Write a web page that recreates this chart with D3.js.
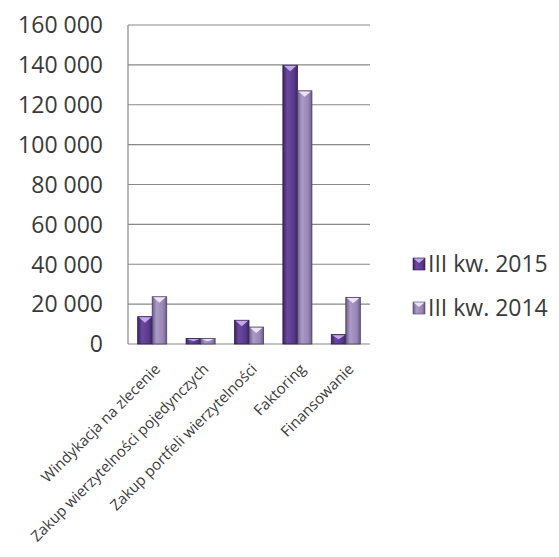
<!DOCTYPE html>
<html lang="pl">
<head>
  <meta charset="UTF-8">
  <title>Wierzytelności</title>
  <style>
    body, html {
      margin: 0;
      padding: 0;
      background: #fff;
    }
    #svg text {
      font-family: "Open Sans", sans-serif;
      fill: #3a3a3a;
    }
  </style>
</head>
<body>
  <svg id="svg" width="559" height="557"></svg>
  <script src="https://d3js.org/d3.v7.min.js"></script>
  <script>
    const categories = [
      "Windykacja na zlecenie",
      "Zakup wierzytelności pojedynczych",
      "Zakup portfeli wierzytelności",
      "Faktoring",
      "Finansowanie"
    ]
    const seriesNames = ["III kw. 2015", "III kw. 2014"]
    const values2015 = [13700, 2800, 11900, 139800, 4700]
    const values2014 = [23700, 2800, 8500, 127000, 23400]
    const yTicks = [0, 20000, 40000, 60000, 80000, 100000, 120000, 140000, 160000]

    const svg = d3.select("#svg")

    const plotLeft = 128, plotRight = 370, plotTop = 25, plotBottom = 344

    const x = d3.scaleBand()
      .domain(categories)
      .range([plotLeft, plotRight])
      .paddingInner(0.4)
      .paddingOuter(0.2)

    const xSeries = d3.scaleBand()
      .domain(seriesNames)
      .range([0, x.bandwidth()])

    const y = d3.scaleLinear()
      .domain([0, 160000])
      .range([plotBottom, plotTop])

    // gradients for the bevelled bars
    const colors = {
      "III kw. 2015": { edge: "#3e2566", mid: "#6a48a0", base: "#5a3a8c", cap: "#c4a8ee", stroke: "#2c1b48" },
      "III kw. 2014": { edge: "#6b5c88", mid: "#ab9bc8", base: "#9786b6", cap: "#ece2fa", stroke: "#4a3d62" }
    }
    const defs = svg.append("defs")
    seriesNames.forEach((s, i) => {
      const g = defs.append("linearGradient")
        .attr("id", "grad" + i)
        .attr("x1", "0").attr("x2", "1").attr("y1", "0").attr("y2", "0")
      g.append("stop").attr("offset", "0").attr("stop-color", colors[s].edge)
      g.append("stop").attr("offset", "0.3").attr("stop-color", colors[s].mid)
      g.append("stop").attr("offset", "0.75").attr("stop-color", colors[s].base)
      g.append("stop").attr("offset", "1").attr("stop-color", colors[s].edge)
    })

    // gridlines
    svg.append("g")
      .selectAll("line")
      .data(yTicks)
      .join("line")
      .attr("x1", plotLeft)
      .attr("x2", plotRight)
      .attr("y1", d => y(d))
      .attr("y2", d => y(d))
      .attr("stroke", "#888")
      .attr("stroke-width", 1.2)

    // y axis line
    svg.append("line")
      .attr("x1", plotLeft).attr("x2", plotLeft)
      .attr("y1", y(160000)).attr("y2", y(0))
      .attr("stroke", "#888")
      .attr("stroke-width", 1.2)

    // y tick labels
    const fmt = d => d3.format(",")(d).replace(/,/g, " ")
    svg.append("g")
      .selectAll("text")
      .data(yTicks)
      .join("text")
      .attr("x", 103)
      .attr("y", d => y(d))
      .attr("dy", "0.36em")
      .attr("text-anchor", "end")
      .style("font-size", "23px")
      .text(fmt)

    // bars
    const rows = []
    categories.forEach((c, i) => {
      rows.push({ cat: c, series: seriesNames[0], idx: 0, value: values2015[i] })
      rows.push({ cat: c, series: seriesNames[1], idx: 1, value: values2014[i] })
    })

    const bars = svg.append("g")
      .selectAll("g")
      .data(rows)
      .join("g")
      .attr("transform", d => `translate(${x(d.cat) + xSeries(d.series)},0)`)

    const bw = xSeries.bandwidth()

    bars.append("rect")
      .attr("x", 0)
      .attr("y", d => y(d.value))
      .attr("width", bw)
      .attr("height", d => y(0) - y(d.value))
      .attr("fill", d => `url(#grad${d.idx})`)
      .attr("stroke", d => colors[d.series].stroke)
      .attr("stroke-width", 0.8)

    // light top bevel
    bars.append("path")
      .attr("d", d => {
        const t = y(d.value)
        const h = Math.min(6, (y(0) - t) * 0.5)
        return `M1,${t + 0.6} L${bw - 1},${t + 0.6} L${bw / 2},${t + h} Z`
      })
      .attr("fill", d => colors[d.series].cap)

    // x labels
    svg.append("g")
      .selectAll("text")
      .data(categories)
      .join("text")
      .attr("transform", d => `translate(${x(d) + x.bandwidth() / 2 + 9},${plotBottom + 26}) rotate(-45)`)
      .attr("text-anchor", "end")
      .style("font-size", "15px")
      .text(d => d)

    // legend
    const legend = svg.append("g")
      .selectAll("g")
      .data(seriesNames)
      .join("g")
      .attr("transform", (d, i) => `translate(413,${264 + i * 44})`)

    legend.append("rect")
      .attr("x", 0)
      .attr("y", -6)
      .attr("width", 12)
      .attr("height", 12)
      .attr("fill", (d, i) => `url(#grad${i})`)
      .attr("stroke", d => colors[d].stroke)
      .attr("stroke-width", 0.6)

    legend.append("path")
      .attr("d", "M0.5,-5.5 L11.5,-5.5 L6,-1 Z")
      .attr("fill", d => colors[d].cap)

    legend.append("text")
      .attr("x", 15)
      .attr("y", 0)
      .attr("dy", "0.36em")
      .style("font-size", "23px")
      .text(d => d)
  </script>
</body>
</html>
